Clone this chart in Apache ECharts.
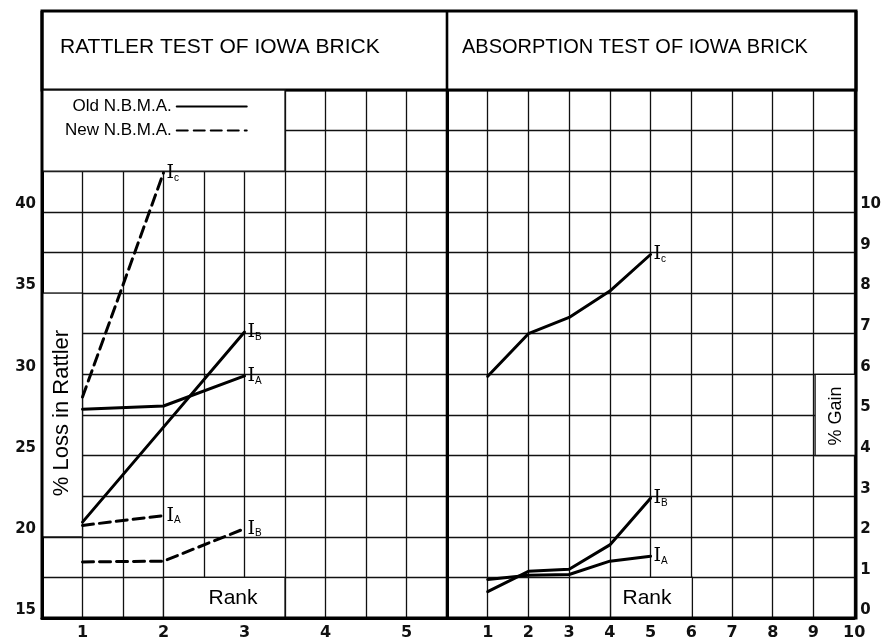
<!DOCTYPE html>
<html><head><meta charset="utf-8">
<script src="https://cdn.jsdelivr.net/npm/echarts@6/dist/echarts.min.js"></script>
<style>html,body{margin:0;padding:0;background:#fff}#c{width:884px;height:642px}</style>
</head><body><div id="c"></div>
<script>
// ---- data ----
const leftTitle = 'RATTLER TEST OF IOWA BRICK';
const rightTitle = 'ABSORPTION TEST OF IOWA BRICK';
const legendNames = ['Old N.B.M.A.', 'New N.B.M.A.'];
const rattlerRanks = [1, 2, 3];
const rattlerOldIA = [27.85, 28.05, 29.9];
const rattlerOldIB = [20.9, 26.75, 32.6];
const rattlerNewIC = [28.6, 42.4];
const rattlerNewIA = [20.7, 21.3];
const rattlerNewIB = [18.45, 18.5, 20.5];
const absorpRanks = [1, 2, 3, 4, 5];
const absorpIC = [5.95, 7.0, 7.4, 8.05, 8.95];
const absorpIB = [0.65, 1.15, 1.2, 1.8, 2.95];
const absorpIA = [0.95, 1.05, 1.07, 1.4, 1.52];
const rattlerTickLabels = [15, 20, 25, 30, 35, 40];
const gainTickLabels = [0, 1, 2, 3, 4, 5, 6, 7, 8, 9, 10];
const rattlerRankLabels = [1, 2, 3, 4, 5];
const absorpRankLabels = [1, 2, 3, 4, 5, 6, 7, 8, 9, 10];

const pair = (ranks, vals) => vals.map((v, i) => [ranks[i], v]);
const richLbl = {
  i: { fontFamily: 'DejaVu Serif', fontSize: 19, color: '#000', lineHeight: 20 },
  s: { fontFamily: 'Liberation Sans', fontSize: 10, color: '#000', verticalAlign: 'bottom', lineHeight: 12 }
};
function mk(name, ranks, vals, sub, dashed, gi) {
  return {
    type: 'line', name: name, xAxisIndex: gi, yAxisIndex: gi,
    data: pair(ranks, vals), symbol: 'none', smooth: false, silent: true,
    lineStyle: { color: '#000', width: 3, type: dashed ? [11, 6] : 'solid', cap: 'round', join: 'round' },
    itemStyle: { color: '#000' },
    endLabel: { show: true, formatter: '{i|I}{s|' + sub + '}', rich: richLbl, distance: 3 }
  };
}
const gridLine = { show: true, lineStyle: { color: '#111', width: 1.3 } };
const tickFont = { fontFamily: 'DejaVu Sans', fontWeight: 'bold', color: '#111' };

const chart = echarts.init(document.getElementById('c'), null, { renderer: 'canvas' });
chart.setOption({
  animation: false,
  backgroundColor: '#fff',
  grid: [
    { left: 42, top: 90, width: 405, height: 528 },
    { left: 447, top: 90, width: 409, height: 528 }
  ],
  xAxis: [
    { gridIndex: 0, type: 'value', min: 0.5, max: 5.5, interval: 0.5,
      axisLine: { show: true, lineStyle: { color: '#000', width: 3 } }, axisTick: { show: false },
      splitLine: gridLine,
      axisLabel: Object.assign({ fontSize: 16, margin: 7,
        formatter: v => rattlerRankLabels.includes(v) ? String(v) : '' }, tickFont) },
    { gridIndex: 1, type: 'value', min: 0, max: 10, interval: 1,
      axisLine: { show: true, lineStyle: { color: '#000', width: 3 } }, axisTick: { show: false },
      splitLine: gridLine,
      axisLabel: Object.assign({ fontSize: 16, margin: 7, showMinLabel: true, showMaxLabel: true,
        formatter: v => absorpRankLabels.includes(v) ? String(v) : '' }, tickFont) }
  ],
  yAxis: [
    { gridIndex: 0, type: 'value', min: 15, max: 47.5, interval: 2.5,
      axisLine: { show: true, lineStyle: { color: '#000', width: 3 } }, axisTick: { show: false },
      splitLine: gridLine,
      axisLabel: Object.assign({ fontSize: 15, margin: 6, verticalAlign: 'bottom', lineHeight: 15,
        formatter: v => rattlerTickLabels.includes(v) ? String(v) : '' }, tickFont) },
    { gridIndex: 1, type: 'value', position: 'right', min: 0, max: 13, interval: 1,
      axisLine: { show: true, lineStyle: { color: '#000', width: 3 } }, axisTick: { show: false },
      splitLine: gridLine,
      axisLabel: Object.assign({ fontSize: 15, margin: 6, verticalAlign: 'bottom', lineHeight: 15,
        formatter: v => gainTickLabels.includes(v) ? String(v) : '' }, tickFont) }
  ],
  legend: {
    data: legendNames, orient: 'vertical', left: 60, top: 93, align: 'right',
    itemWidth: 70, itemHeight: 14, itemGap: 7, selectedMode: false,
    itemStyle: { color: 'rgba(0,0,0,0)', borderColor: 'rgba(0,0,0,0)', borderWidth: 0 },
    textStyle: { fontFamily: 'Liberation Sans', fontSize: 17, color: '#000' }
  },
  series: [
    mk(legendNames[0], rattlerRanks, rattlerOldIA, 'A', false, 0),
    mk(legendNames[0], rattlerRanks, rattlerOldIB, 'B', false, 0),
    mk(legendNames[1], rattlerRanks, rattlerNewIC, 'c', true, 0),
    mk(legendNames[1], rattlerRanks, rattlerNewIA, 'A', true, 0),
    mk(legendNames[1], rattlerRanks, rattlerNewIB, 'B', true, 0),
    mk(legendNames[0], absorpRanks, absorpIC, 'c', false, 1),
    mk(legendNames[0], absorpRanks, absorpIB, 'B', false, 1),
    mk(legendNames[0], absorpRanks, absorpIA, 'A', false, 1)
  ],
  graphic: [
    // title box
    { type: 'rect', z: 1, shape: { x: 42, y: 11, width: 814, height: 79 },
      style: { fill: '#fff', stroke: '#000', lineWidth: 3 } },
    { type: 'text', z: 3, x: 60, y: 47, style: { text: leftTitle, fontFamily: 'Liberation Sans', fontSize: 21, fill: '#000', verticalAlign: 'middle' } },
    { type: 'text', z: 3, x: 462, y: 47, style: { text: rightTitle, fontFamily: 'Liberation Sans', fontSize: 20, fill: '#000', verticalAlign: 'middle' } },
    // legend box
    { type: 'rect', z: 1, shape: { x: 42, y: 90, width: 243, height: 81.2 },
      style: { fill: '#fff', stroke: '#111', lineWidth: 1.3 } },
    // % Loss box
    { type: 'rect', z: 1, shape: { x: 42, y: 293.1, width: 40.5, height: 243.7 },
      style: { fill: '#fff', stroke: '#111', lineWidth: 1.3 } },
    { type: 'text', z: 3, x: 62, y: 413, rotation: Math.PI / 2,
      style: { text: '% Loss in Rattler', fontFamily: 'Liberation Sans', fontSize: 22, fill: '#000', align: 'center', verticalAlign: 'middle' } },
    // Rank box left
    { type: 'rect', z: 1, shape: { x: 163.5, y: 577.4, width: 121.5, height: 40.6 },
      style: { fill: '#fff', stroke: '#111', lineWidth: 1.3 } },
    { type: 'text', z: 3, x: 233, y: 598, style: { text: 'Rank', fontFamily: 'Liberation Sans', fontSize: 21, fill: '#000', align: 'center', verticalAlign: 'middle' } },
    // Rank box right
    { type: 'rect', z: 1, shape: { x: 610.6, y: 577.4, width: 81.8, height: 40.6 },
      style: { fill: '#fff', stroke: '#111', lineWidth: 1.3 } },
    { type: 'text', z: 3, x: 647, y: 598, style: { text: 'Rank', fontFamily: 'Liberation Sans', fontSize: 21, fill: '#000', align: 'center', verticalAlign: 'middle' } },
    // % Gain box
    { type: 'rect', z: 1, shape: { x: 815.1, y: 374.3, width: 40.9, height: 81.2 },
      style: { fill: '#fff', stroke: '#111', lineWidth: 1.3 } },
    { type: 'text', z: 3, x: 836, y: 416, rotation: Math.PI / 2,
      style: { text: '% Gain', fontFamily: 'Liberation Sans', fontSize: 18, fill: '#000', align: 'center', verticalAlign: 'middle' } },
    // frame
    { type: 'polyline', z: 5, shape: { points: [[42, 11], [42, 618], [856, 618], [856, 11]] },
      style: { fill: null, stroke: '#000', lineWidth: 3 } },
    { type: 'line', z: 5, shape: { x1: 447, y1: 11, x2: 447, y2: 618 },
      style: { stroke: '#000', lineWidth: 2.6 } }
  ]
});
</script></body></html>
